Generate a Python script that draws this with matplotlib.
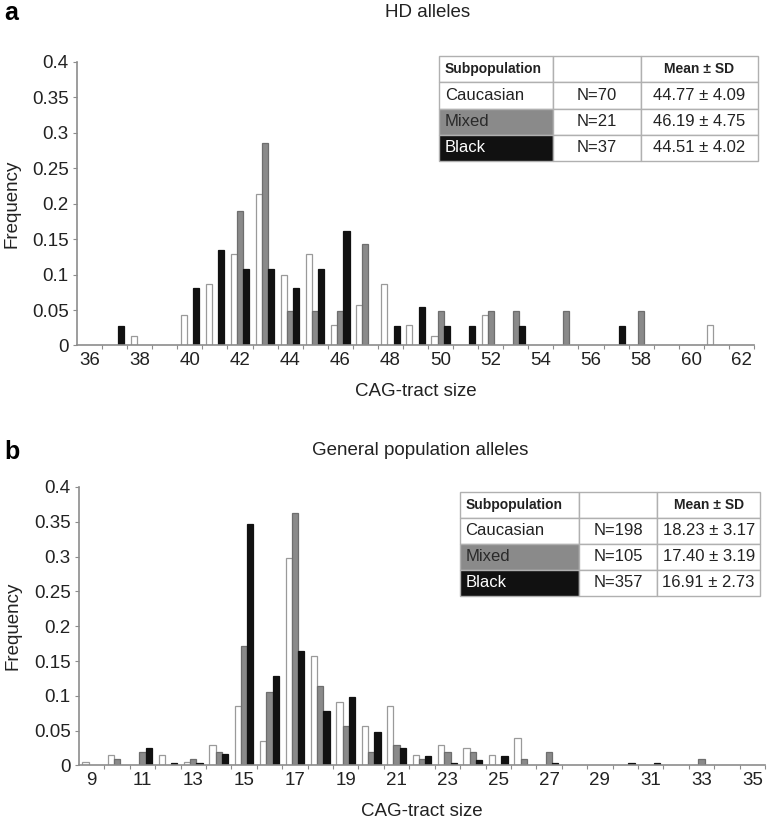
import matplotlib
matplotlib.use("Agg")
import matplotlib.pyplot as plt
import matplotlib.patches as patches
import numpy as np

plt.rcParams['font.family'] = ['Liberation Sans', 'DejaVu Sans']

# ---- panel a: HD alleles (CAG sizes 36..62) ----
sizes_a = list(range(36, 63))
cauc_a = [0, 0, 0.014, 0, 0.043, 0.086, 0.129, 0.214, 0.100, 0.129, 0.029, 0.057, 0.086, 0.029,
          0.014, 0, 0.043, 0, 0, 0, 0, 0, 0, 0, 0, 0.029, 0]
mixed_a = [0, 0, 0, 0, 0, 0, 0.190, 0.286, 0.048, 0.048, 0.048, 0.143, 0, 0,
           0.048, 0, 0.048, 0.048, 0, 0.048, 0, 0, 0.048, 0, 0, 0, 0]
black_a = [0, 0.027, 0, 0, 0.081, 0.135, 0.108, 0.108, 0.081, 0.108, 0.162, 0, 0.027, 0.054,
           0.027, 0.027, 0, 0.027, 0, 0, 0, 0.027, 0, 0, 0, 0, 0]
table_a = [["Caucasian", "N=70", "44.77 \u00b1 4.09"],
           ["Mixed", "N=21", "46.19 \u00b1 4.75"],
           ["Black", "N=37", "44.51 \u00b1 4.02"]]

# ---- panel b: general population alleles (CAG sizes 9..35) ----
sizes_b = list(range(9, 36))
cauc_b = [0.005, 0.015, 0, 0.015, 0.005, 0.030, 0.086, 0.035, 0.298, 0.157, 0.091, 0.056, 0.086,
          0.015, 0.030, 0.025, 0.015, 0.040, 0, 0, 0, 0, 0, 0, 0, 0, 0]
mixed_b = [0, 0.0095, 0.019, 0, 0.0095, 0.019, 0.171, 0.105, 0.362, 0.114, 0.057, 0.019, 0.029,
           0.0095, 0.019, 0.019, 0, 0.0095, 0.019, 0, 0, 0, 0, 0, 0.0095, 0, 0]
black_b = [0, 0, 0.025, 0.003, 0.003, 0.017, 0.347, 0.129, 0.165, 0.078, 0.098, 0.048, 0.025,
           0.014, 0.003, 0.008, 0.014, 0, 0.003, 0, 0, 0.003, 0.003, 0, 0, 0, 0]
table_b = [["Caucasian", "N=198", "18.23 \u00b1 3.17"],
           ["Mixed", "N=105", "17.40 \u00b1 3.19"],
           ["Black", "N=357", "16.91 \u00b1 2.73"]]

yticks = [0, 0.05, 0.1, 0.15, 0.2, 0.25, 0.3, 0.35, 0.4]
ytick_labels = ["0", "0.05", "0.1", "0.15", "0.2", "0.25", "0.3", "0.35", "0.4"]

WHITE = "white"
GREY = "#8a8a8a"
BLACK = "#111111"
AXIS = "#8c8c8c"


def draw_table(ax, left, bottom, width, height, col_fracs, rows):
    # simple boxed table in axes coordinates
    n_rows = len(rows) + 1
    rh = height / n_rows
    xs = [left]
    for f in col_fracs:
        xs.append(xs[-1] + f * width)
    fills = [WHITE, GREY, BLACK]
    txt_cols = ["#222222", "#2a2a2a", "white"]
    kw = dict(transform=ax.transAxes, clip_on=False)
    # header
    top = bottom + height
    for c in range(3):
        ax.add_patch(patches.Rectangle((xs[c], top - rh), xs[c + 1] - xs[c], rh,
                                       facecolor="white", edgecolor="#b0b0b0", lw=1, **kw))
    ax.text(xs[0] + 0.008, top - rh / 2, "Subpopulation", ha="left", va="center",
            fontsize=10, fontweight="bold", color="#222222", **kw)
    ax.text((xs[2] + xs[3]) / 2, top - rh / 2, "Mean \u00b1 SD", ha="center", va="center",
            fontsize=10, fontweight="bold", color="#222222", **kw)
    for r, row in enumerate(rows):
        y0 = top - (r + 2) * rh
        for c in range(3):
            fc = fills[r] if c == 0 else "white"
            ax.add_patch(patches.Rectangle((xs[c], y0), xs[c + 1] - xs[c], rh,
                                           facecolor=fc, edgecolor="#b0b0b0", lw=1, **kw))
        ax.text(xs[0] + 0.008, y0 + rh / 2, row[0], ha="left", va="center",
                fontsize=12, color=txt_cols[r], **kw)
        ax.text((xs[1] + xs[2]) / 2, y0 + rh / 2, row[1], ha="center", va="center",
                fontsize=12, color="#222222", **kw)
        ax.text((xs[2] + xs[3]) / 2, y0 + rh / 2, row[2], ha="center", va="center",
                fontsize=12, color="#222222", **kw)


def draw_panel(ax, sizes, cauc, mixed, black):
    x = np.array(sizes, dtype=float)
    w = 0.245
    groups = [(cauc, -w, WHITE, "#9a9a9a"), (mixed, 0, GREY, "#6e6e6e"), (black, w, BLACK, "#111111")]
    for vals, off, fc, ec in groups:
        bars = ax.bar(x + off, vals, w, color=fc, edgecolor=ec, linewidth=0.9, zorder=2)
        for b, v in zip(bars, vals):
            if v == 0:
                b.set_visible(False)
    ax.set_xlim(sizes[0] - 0.5, sizes[-1] + 0.5)
    ax.set_ylim(0, 0.4)
    ax.set_yticks(yticks)
    ax.set_yticklabels(ytick_labels)
    # ticks on category boundaries, labels on every second category
    ax.set_xticks([s + 0.5 for s in sizes])
    ax.set_xticklabels([])
    ax.set_xticks(sizes[::2], minor=True)
    ax.set_xticklabels([str(s) for s in sizes[::2]], minor=True)
    ax.tick_params(axis="x", which="major", length=3, color=AXIS, direction="out")
    ax.tick_params(axis="x", which="minor", length=0, pad=5, labelsize=13.5, labelcolor="#222222")
    ax.tick_params(axis="y", length=3, color=AXIS, labelsize=13.5, labelcolor="#222222", pad=3)
    for s in ["top", "right"]:
        ax.spines[s].set_visible(False)
    for s in ["left", "bottom"]:
        ax.spines[s].set_color(AXIS)
        ax.spines[s].set_linewidth(1.2)


fig = plt.figure(figsize=(7.75, 8.23), dpi=100)

ax_a = fig.add_axes([0.0994, 0.5802, 0.8735, 0.3448])
draw_panel(ax_a, sizes_a, cauc_a, mixed_a, black_a)
ax_a.set_xlabel("CAG-tract size", fontsize=13.5, color="#222222", labelpad=10)
ax_a.set_ylabel("Frequency", fontsize=13.5, color="#222222", labelpad=8)
draw_table(ax_a, 0.535, 0.650, 0.471, 0.370, [0.357, 0.276, 0.367], table_a)

ax_b = fig.add_axes([0.1019, 0.0699, 0.8852, 0.3384])
draw_panel(ax_b, sizes_b, cauc_b, mixed_b, black_b)
ax_b.set_xlabel("CAG-tract size", fontsize=13.5, color="#222222", labelpad=10)
ax_b.set_ylabel("Frequency", fontsize=13.5, color="#222222", labelpad=9)
draw_table(ax_b, 0.555, 0.609, 0.438, 0.373, [0.397, 0.260, 0.343], table_b)

fig.text(0.005, 0.984, "a", fontsize=18, fontweight="bold", va="center", ha="left")
fig.text(0.552, 0.985, "HD alleles", fontsize=13.5, va="center", ha="center", color="#222222")
fig.text(0.005, 0.451, "b", fontsize=18, fontweight="bold", va="center", ha="left")
fig.text(0.542, 0.453, "General population alleles", fontsize=13.5, va="center", ha="center",
         color="#222222")

fig.savefig("out.png", dpi=100)
